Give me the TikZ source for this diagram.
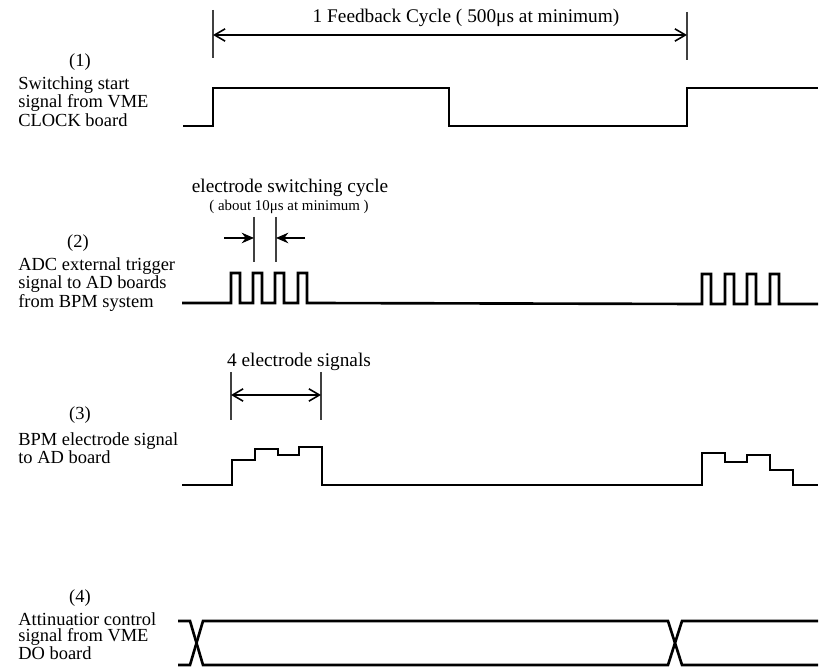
\documentclass[tikz,border=0pt]{standalone}
\usepackage{fontspec}
\setmainfont{Liberation Serif}
\usetikzlibrary{arrows.meta,calc}

\begin{document}
\begin{tikzpicture}[x=0.02cm,y=-0.02cm,font=\fontsize{10.5}{9.2}\selectfont,
  wave/.style={line width=1.5pt,line join=miter},
  tick/.style={line width=0.8pt,black!75},
  dim/.style={line width=0.9pt,-{Straight Barb[length=6pt,width=7pt]}},
  dimtext/.style={font=\fontsize{11}{12}\selectfont,inner sep=0pt},
  lbl/.style={align=left,anchor=north west,inner sep=0pt},
  num/.style={inner sep=0pt}]
  \useasboundingbox (0,0) rectangle (829,668);
  % labels on the left
  \node[num] (n1) at (80,62)  {(1)};
  \node[lbl] (l1) at (18,76)  {Switching start\\signal from VME\\CLOCK board};
  \node[num] (n2) at (78,243) {(2)};
  \node[lbl] (l2) at (18,257) {ADC external trigger\\signal to AD boards\\from BPM system};
  \node[num] (n3) at (80,415) {(3)};
  \node[lbl] (l3) at (18,432) {BPM electrode signal\\to AD board};
  \node[num] (n4) at (80,598) {(4)};
  \node[lbl] (l4) at (18,612) {Attinuatior control\\signal from VME\\DO board};
  % feedback cycle
  \coordinate (fa) at (213,10);
  \coordinate (fb) at (687,12);
  \draw[tick] (fa) -- ++(0,48);
  \draw[tick] (fb) -- ++(0,48);
  \coordinate (fa1) at (213,35);
  \coordinate (fb1) at (687,35);
  \draw[dim,{Straight Barb[length=6pt,width=7pt]}-{Straight Barb[length=6pt,width=7pt]}] (fa1) -- (fb1);
  \node[dimtext] (fbc) at (466,18) {1 Feedback Cycle ( 500μs at minimum)};
  % (1) switching start signal
  \draw[wave] (183,126) -- (213,126) -- (213,88) -- (449,88) -- (449,126)
    -- (687,126) -- (687,88) -- (818,88);
  % electrode switching cycle
  \coordinate (sa) at (254,217);
  \coordinate (sb) at (276,217);
  \draw[tick] (sa) -- ++(0,45);
  \draw[tick] (sb) -- ++(0,45);
  \coordinate (sa1) at (254,238);
  \coordinate (sb1) at (276,238);
  \draw[dim,-{Stealth[length=7pt,width=6pt]}] ($(sa1)+(-30,0)$) -- (sa1);
  \draw[dim,-{Stealth[length=7pt,width=6pt]}] ($(sb1)+(29,0)$) -- (sb1);
  \node[dimtext] (esc) at (290,188) {electrode switching cycle};
  \node[inner sep=0pt,font=\fontsize{8.5}{9}\selectfont] (esm) at (289,207) {( about 10μs at minimum )};
  % (2) trigger pulses
  \draw[wave] (182,303) -- (231,303) -- (231,273) -- (240,273) -- (240,303)
    -- (253,303) -- (253,273) -- (262,273) -- (262,303)
    -- (275,303) -- (275,273) -- (284,273) -- (284,303)
    -- (298,303) -- (298,273) -- (307,273) -- (307,303)
    -- (702,304) -- (702,274) -- (711,274) -- (711,304)
    -- (725,304) -- (725,274) -- (734,274) -- (734,304)
    -- (747,304) -- (747,274) -- (756,274) -- (756,304)
    -- (770,304) -- (770,274) -- (779,274) -- (779,304) -- (818,304);
  % 4 electrode signals
  \coordinate (ea) at (231,372);
  \coordinate (eb) at (321,372);
  \draw[tick] (ea) -- ++(0,48);
  \draw[tick] (eb) -- ++(0,48);
  \coordinate (ea1) at (231,395);
  \coordinate (eb1) at (321,395);
  \draw[dim,{Straight Barb[length=6pt,width=7pt]}-{Straight Barb[length=6pt,width=7pt]}] (ea1) -- (eb1);
  \node[dimtext] (fes) at (299,362) {4 electrode signals};
  % (3) electrode signal
  \draw[wave] (182,485) -- (232,485) -- (232,460) -- (255,460) -- (255,449)
    -- (278,449) -- (278,455) -- (299,455) -- (299,447) -- (322,447) -- (322,485)
    -- (702,485) -- (702,453) -- (725,453) -- (725,462) -- (747,462)
    -- (747,455) -- (770,455) -- (770,470) -- (793,470) -- (793,485) -- (818,485);
  % (4) attenuator control, crossing at each cycle
  \draw[wave] (178,621) -- (190,621) -- (203,665) -- (668,665) -- (682,621) -- (818,621);
  \draw[wave] (178,665) -- (190,665) -- (203,621) -- (668,621) -- (682,665) -- (818,665);
\end{tikzpicture}
\end{document}
